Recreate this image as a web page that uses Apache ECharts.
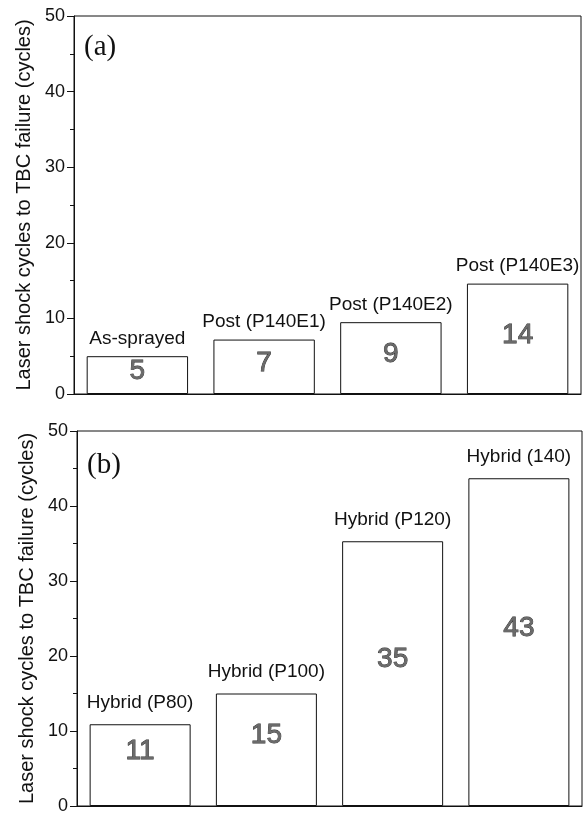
<!DOCTYPE html>
<html><head><meta charset="utf-8">
<script src="https://cdn.jsdelivr.net/npm/echarts@6/dist/echarts.min.js"></script>
<style>html,body{margin:0;padding:0;background:#fff}#c{width:583px;height:815px}</style>
</head><body><div id="c"></div>
<script>
const topCategories = ['As-sprayed', 'Post (P140E1)', 'Post (P140E2)', 'Post (P140E3)'];
const topHeights = [5.0, 7.2, 9.5, 14.6];
const topCounts = ['5', '7', '9', '14'];
const bottomCategories = ['Hybrid (P80)', 'Hybrid (P100)', 'Hybrid (P120)', 'Hybrid (140)'];
const bottomHeights = [10.9, 15.0, 35.3, 43.7];
const bottomCounts = ['11', '15', '35', '43'];
const yTicks = [0, 10, 20, 30, 40, 50];
const yName = 'Laser shock cycles to TBC failure (cycles)';
const panelLabels = ['(a)', '(b)'];

const FONT = 'Liberation Sans, Arial, sans-serif';
const chart = echarts.init(document.getElementById('c'), null, {renderer: 'canvas'});

function yAxisCfg(gi) {
  return {
    type: 'value', gridIndex: gi,
    min: yTicks[0], max: yTicks[yTicks.length - 1], interval: yTicks[1] - yTicks[0],
    name: yName, nameLocation: 'middle', nameGap: 40, nameRotate: 90,
    nameTextStyle: {fontFamily: FONT, fontSize: 20, color: '#111'},
    axisLine: {show: true, lineStyle: {color: '#111', width: 1}},
    axisTick: {show: true, inside: false, length: 7, lineStyle: {color: '#111'}},
    minorTick: {show: true, splitNumber: 2, length: 4, lineStyle: {color: '#111'}},
    splitLine: {show: false},
    axisLabel: {fontFamily: FONT, fontSize: 18, color: '#111', margin: 9,
      formatter: v => yTicks.includes(v) ? String(v) : ''}
  };
}
function xAxisCfg(gi, cats) {
  return {
    type: 'category', gridIndex: gi, data: cats, boundaryGap: true,
    axisLine: {show: true, lineStyle: {color: '#111', width: 1}},
    axisTick: {show: false}, axisLabel: {show: false}, splitLine: {show: false}
  };
}
function barSeries(gi, heights, counts, offY) {
  return {
    type: 'bar', xAxisIndex: gi, yAxisIndex: gi, data: heights, barWidth: '80%',
    itemStyle: {color: '#fff', borderColor: '#111', borderWidth: 1},
    label: {show: true, position: 'inside', offset: [0, offY],
      formatter: p => counts[p.dataIndex],
      fontFamily: FONT, fontSize: 28, color: '#6a6a6a',
      textBorderColor: '#2a2a2a', textBorderWidth: 0.8},
    silent: true, z: 2
  };
}
function nameSeries(gi, heights, dist) {
  return {
    type: 'bar', xAxisIndex: gi, yAxisIndex: gi, data: heights, barWidth: '80%', barGap: '-100%',
    itemStyle: {color: 'rgba(0,0,0,0)', borderWidth: 0},
    label: {show: true, position: 'top', distance: dist, formatter: '{b}',
      fontFamily: FONT, fontSize: 19, color: '#111'},
    silent: true, z: 3
  };
}

chart.setOption({
  backgroundColor: '#fff',
  animation: false,
  title: [
    {text: panelLabels[0], left: 79, top: 28,
      textStyle: {fontFamily: 'Liberation Serif, Times New Roman, serif', fontSize: 29, fontWeight: 'normal', color: '#111'}},
    {text: panelLabels[1], left: 82, top: 446,
      textStyle: {fontFamily: 'Liberation Serif, Times New Roman, serif', fontSize: 29, fontWeight: 'normal', color: '#111'}}
  ],
  grid: [
    {left: 74, top: 16, width: 507, height: 378, show: true, borderColor: '#111', borderWidth: 1, backgroundColor: 'transparent'},
    {left: 77, top: 431, width: 505, height: 381, show: true, borderColor: '#111', borderWidth: 1, backgroundColor: 'transparent'}
  ],
  xAxis: [xAxisCfg(0, topCategories), xAxisCfg(1, bottomCategories)],
  yAxis: [yAxisCfg(0), yAxisCfg(1)],
  series: [
    barSeries(0, topHeights, topCounts, -4),
    nameSeries(0, topHeights, 8),
    barSeries(1, bottomHeights, bottomCounts, -14),
    nameSeries(1, bottomHeights, 12)
  ]
});
</script></body></html>
